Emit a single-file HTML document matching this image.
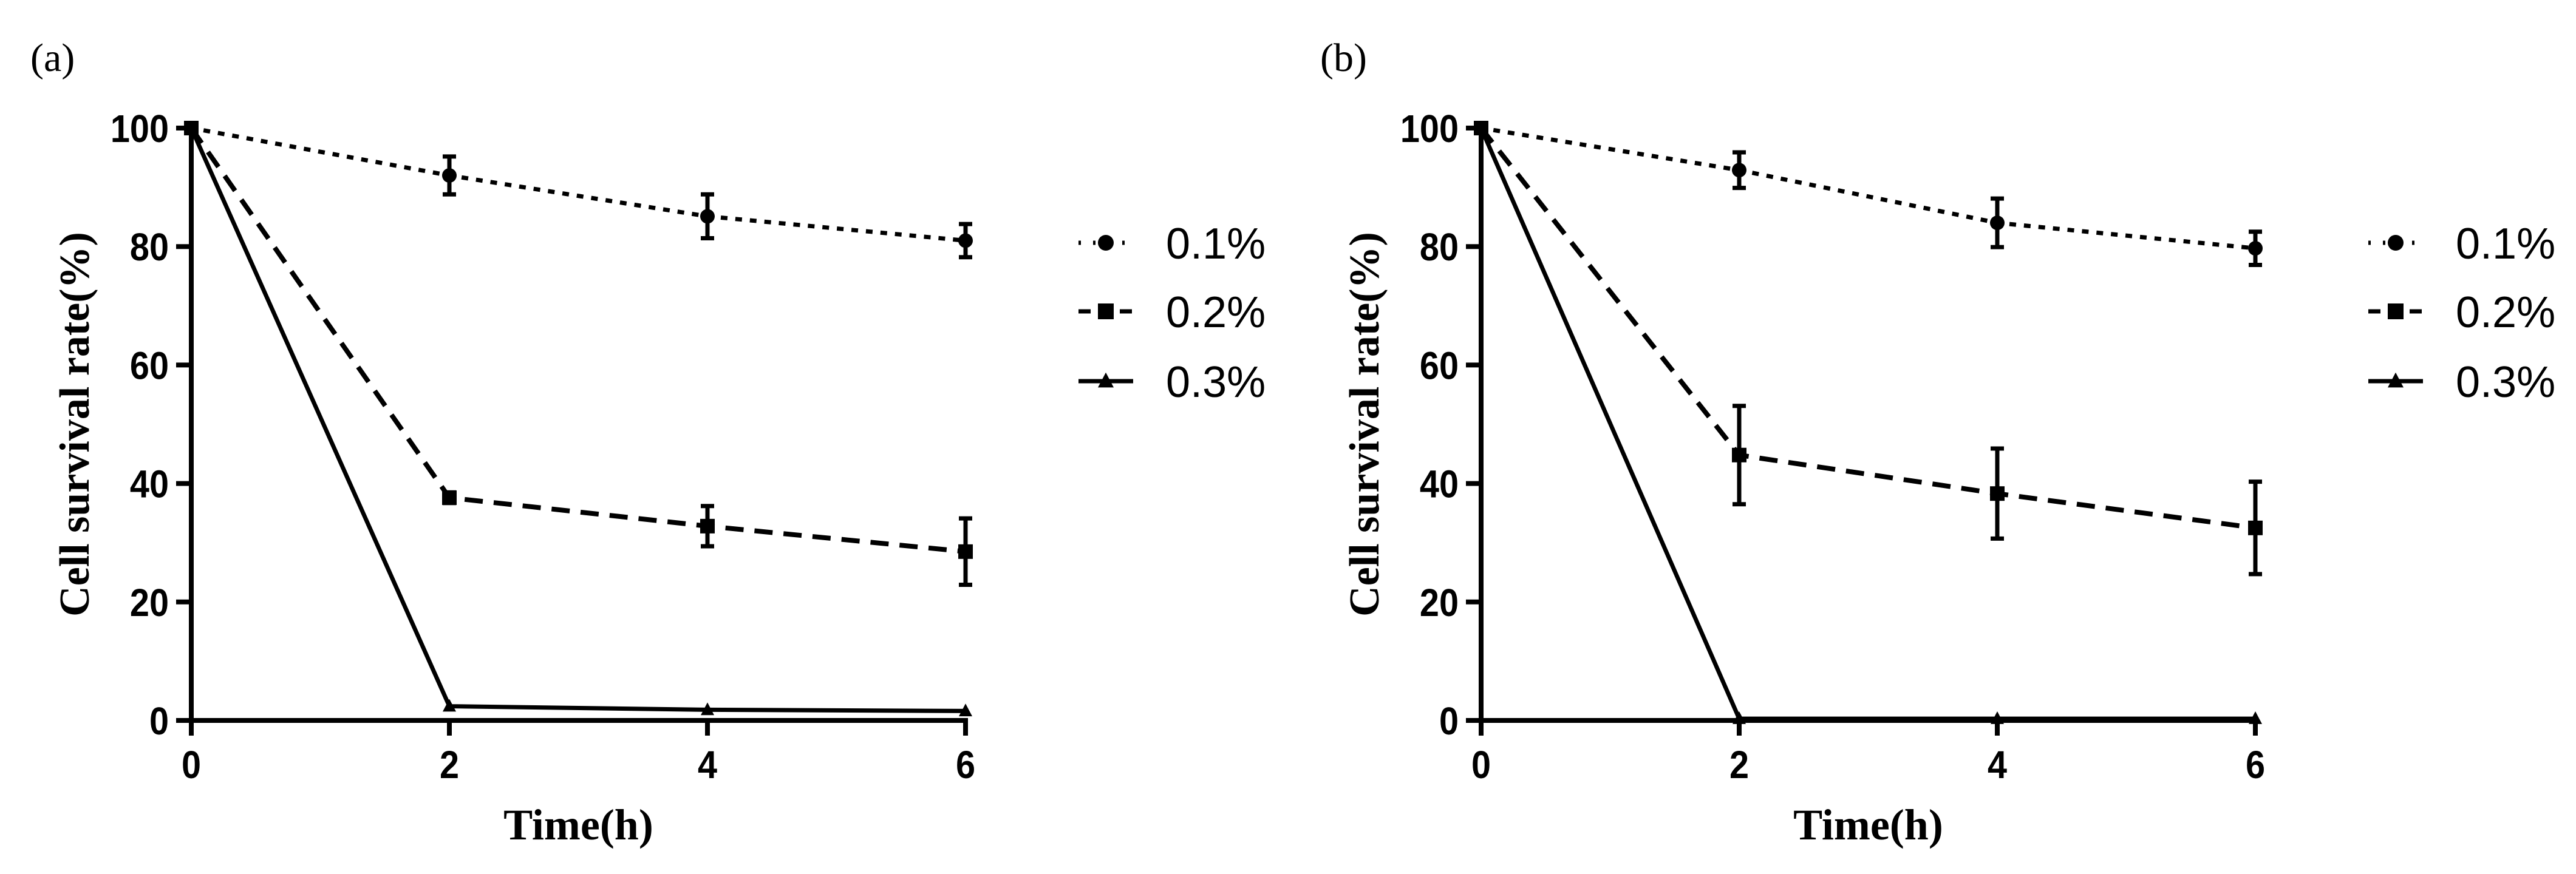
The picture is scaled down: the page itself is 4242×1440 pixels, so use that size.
<!DOCTYPE html>
<html><head><meta charset="utf-8"><style>
html,body{margin:0;padding:0;background:#fff;}
svg{display:block;}
</style></head><body>
<svg id="fig" width="4242" height="1440" viewBox="0 0 4242 1440" xmlns="http://www.w3.org/2000/svg"></svg>
<script>
const times = [0, 2, 4, 6];
const seriesNames = ["0.1%", "0.2%", "0.3%"];
const yTicks = [0, 20, 40, 60, 80, 100];
const xTicks = [0, 2, 4, 6];
const panelLabels = ["(a)", "(b)"];
const a01 = [100, 92, 85.1, 81];
const a01err = [0, 3.2, 3.7, 2.8];
const a02 = [100, 37.6, 32.8, 28.5];
const a02err = [0, 0.9, 3.4, 5.6];
const a03 = [100, 2.4, 1.8, 1.6];
const a03err = [0, 0, 0, 0];
const b01 = [100, 92.9, 84, 79.7];
const b01err = [0, 3, 4.1, 2.8];
const b02 = [100, 44.8, 38.3, 32.5];
const b02err = [0, 8.3, 7.6, 7.8];
const b03 = [100, 0.3, 0.3, 0.3];
const b03err = [0, 0, 0, 0];

const NS = "http://www.w3.org/2000/svg";
const svg = document.getElementById('fig');
function mk(tag, attrs, parent) {
  const e = document.createElementNS(NS, tag);
  for (const k in attrs) e.setAttribute(k, attrs[k]);
  (parent || svg).appendChild(e);
  return e;
}
const styles = [
  {dash: "4 20", cap: "square", marker: "circle"},
  {dash: "30 18", cap: "butt", marker: "square"},
  {dash: "none", cap: "butt", marker: "triangle"}
];
function drawPanel(off, idx, data, errs) {
  const X0 = 315 + off, X1 = 1590 + off, Y0 = 1187, Y1 = 211;
  const xs = t => X0 + (t - 0) / 6 * (X1 - X0);
  const ys = v => Y0 - v / 100 * (Y0 - Y1);
  const g = mk('g', {});
  
  
  const pl = mk('text', {x: 50 + off, y: 117, 'font-family': '"Liberation Serif", serif', 'font-size': 66}, g);
  pl.textContent = panelLabels[idx];
  
  
  // axes
  const ax = mk('path', {d: `M${X0} ${Y1 - 4} L${X0} ${Y0} M${X0 - 25} ${Y0} L${X1 + 4} ${Y0}`, stroke: '#000', 'stroke-width': 8, fill: 'none'}, g);
  
  
  yTicks.forEach(v => {
    const tk = mk('line', {x1: X0 - 25, x2: X0, y1: ys(v), y2: ys(v), stroke: '#000', 'stroke-width': 8}, g);
    
    
    const tl = mk('text', {x: X0 - 37, y: ys(v) + 23, 'text-anchor': 'end', 'font-family': '"Liberation Sans", sans-serif', 'font-weight': 'bold', 'font-size': 64, transform: `translate(${X0 - 37} 0) scale(0.9 1) translate(${-(X0 - 37)} 0)`}, g);
    tl.textContent = v;
    
    
  });
  xTicks.forEach(t => {
    const tk = mk('line', {x1: xs(t), x2: xs(t), y1: Y0, y2: Y0 + 25, stroke: '#000', 'stroke-width': 8}, g);
    
    
    const tl = mk('text', {x: xs(t), y: 1282, 'text-anchor': 'middle', 'font-family': '"Liberation Sans", sans-serif', 'font-weight': 'bold', 'font-size': 64, transform: `translate(${xs(t)} 0) scale(0.9 1) translate(${-xs(t)} 0)`}, g);
    tl.textContent = t;
    
    
  });
  const xt = mk('text', {x: (X0 + X1) / 2, y: 1383, 'text-anchor': 'middle', 'font-family': '"Liberation Serif", serif', 'font-weight': 'bold', 'font-size': 72}, g);
  xt.textContent = 'Time(h)';
  
  
  const yt = mk('text', {x: 0, y: 0, 'text-anchor': 'middle', 'font-family': '"Liberation Serif", serif', 'font-weight': 'bold', 'font-size': 70, transform: `translate(${146 + off} ${(Y0 + Y1) / 2}) rotate(-90)`}, g);
  yt.textContent = 'Cell survival rate(%)';
  
  

  function marker(type, cx, cy, parent, sz) {
    let m;
    if (type === 'circle') m = mk('circle', {cx: cx, cy: cy, r: sz / 2, fill: '#000'}, parent);
    else if (type === 'square') m = mk('rect', {x: cx - sz / 2, y: cy - sz / 2, width: sz, height: sz, fill: '#000'}, parent);
    else m = mk('path', {d: `M${cx} ${cy - sz * 0.55} L${cx + sz / 2} ${cy + sz * 0.4} L${cx - sz / 2} ${cy + sz * 0.4}Z`, fill: '#000'}, parent);
    return m;
  }
  // series
  for (let s = 2; s >= 0; s--) {
    const st = styles[s];
    const sg = mk('g', {}, g);
    
    
    const d = data[s].map((v, i) => (i ? 'L' : 'M') + xs(times[i]) + ' ' + ys(v)).join(' ');
    const ln = mk('path', {d: d, fill: 'none', stroke: '#000', 'stroke-width': s === 1 ? 8 : 7, 'stroke-dasharray': st.dash, 'stroke-linecap': st.cap}, sg);
    
    
    data[s].forEach((v, i) => {
      const e = errs[s][i];
      const cx = xs(times[i]);
      if (e > 0) {
        const eb = mk('path', {d: `M${cx} ${ys(v + e)} L${cx} ${ys(v - e)} M${cx - 11} ${ys(v + e)} L${cx + 11} ${ys(v + e)} M${cx - 11} ${ys(v - e)} L${cx + 11} ${ys(v - e)}`, stroke: '#000', 'stroke-width': 7, fill: 'none'}, sg);
        
        
      }
      const m = marker(st.marker, cx, ys(v), sg, s === 2 ? 22 : 24);
      
      
    });
  }
  // legend
  const legY = [400, 513, 628];
  for (let s = 0; s < 3; s++) {
    const st = styles[s];
    const lg = mk('g', {}, g);
    
    
    const lx0 = 1776 + off, lx1 = 1866 + off, cy = legY[s];
    mk('line', {x1: lx0, x2: lx1, y1: cy, y2: cy, stroke: '#000', 'stroke-width': 7, 'stroke-dasharray': s === 0 ? '4 20' : (s === 1 ? '20 14' : 'none')}, lg);
    marker(st.marker, 1821 + off, cy, lg, 26);
    const t = mk('text', {x: 1920 + off, y: cy + 26, 'font-family': '"Liberation Sans", sans-serif', 'font-size': 72}, lg);
    t.textContent = seriesNames[s];
  }
}
drawPanel(0, 0, [a01, a02, a03], [a01err, a02err, a03err]);
drawPanel(2124, 1, [b01, b02, b03], [b01err, b02err, b03err]);
</script>
</body></html>
